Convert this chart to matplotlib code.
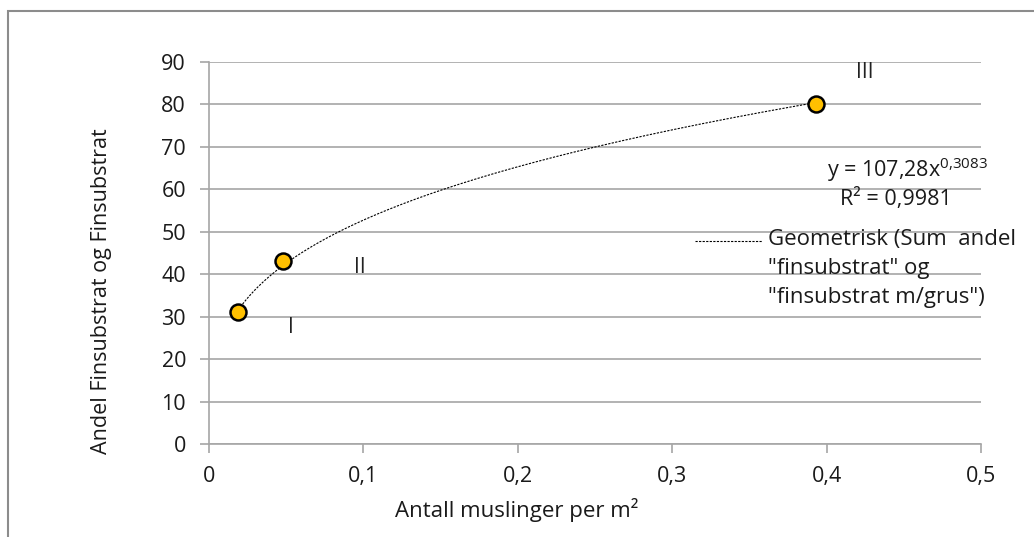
import numpy as np
import matplotlib
import matplotlib.pyplot as plt
from matplotlib.patches import Rectangle
from matplotlib.lines import Line2D

matplotlib.rcParams['font.family'] = ['Open Sans', 'DejaVu Sans']
matplotlib.rcParams['mathtext.fontset'] = 'custom'
matplotlib.rcParams['mathtext.rm'] = 'Open Sans'
matplotlib.rcParams['mathtext.it'] = 'Open Sans'
matplotlib.rcParams['mathtext.default'] = 'rm'

# data
x_vals = [0.019, 0.048, 0.393]
y_vals = [31, 43, 80]
point_labels = ["I", "II", "III"]
label_pos_x = [0.053, 0.098, 0.425]
label_pos_y = [27.5, 41.5, 87.5]

# power trendline coefficients shown on the chart
fit_a = 107.28
fit_b = 0.3083

x_ticks = [0, 0.1, 0.2, 0.3, 0.4, 0.5]
x_ticklabels = ["0", "0,1", "0,2", "0,3", "0,4", "0,5"]
y_ticks = [0, 10, 20, 30, 40, 50, 60, 70, 80, 90]

GRID = "#A6A6A6"
TXT = "#1A1A1A"

fig = plt.figure(figsize=(10.34, 5.37), dpi=100)
fig.patch.set_facecolor("white")
# outer chart frame (partly cropped in the original)
fig.add_artist(Rectangle((8/1034, -0.05), 1.2, 1 - 11/537 + 0.05, transform=fig.transFigure,
                         fill=False, edgecolor="#8C8C8C", linewidth=1.5))

ax = fig.add_axes([209/1034, 1 - 444/537, (981 - 209)/1034, (444 - 62)/537])

xf = np.linspace(min(x_vals), max(x_vals), 300)
ax.plot(xf, fit_a * xf ** fit_b, color="black", linewidth=0.8, linestyle=(0, (2, 1.2)), zorder=3)
ax.plot(x_vals, y_vals, linestyle="none", marker="o", markersize=11.5,
        markerfacecolor="#FFC000", markeredgecolor="black", markeredgewidth=1.8, zorder=4)

for lx, ly, t in zip(label_pos_x, label_pos_y, point_labels):
    ax.text(lx, ly, t, fontsize=15, ha="center", va="center", color="#222222")

ax.set_xlim(0, 0.5)
ax.set_ylim(0, 90)
ax.set_xticks(x_ticks)
ax.set_xticklabels(x_ticklabels)
ax.set_yticks(y_ticks)
ax.yaxis.grid(True, color=GRID, linewidth=1.2)
ax.set_axisbelow(True)
for s in ["top", "right"]:
    ax.spines[s].set_visible(False)
for s in ["left", "bottom"]:
    ax.spines[s].set_color(GRID)
    ax.spines[s].set_linewidth(1.2)
ax.tick_params(axis="both", colors=GRID, labelcolor=TXT, labelsize=15.5, length=6.5, width=1.2)
ax.tick_params(axis="x", pad=9)
ax.tick_params(axis="y", pad=10)

ax.set_xlabel("Antall muslinger per m²", fontsize=16, color=TXT)
ax.xaxis.set_label_coords((517 - 209)/772, -(498 - 444)/382)
ax.set_ylabel("Andel Finsubstrat og Finsubstrat", fontsize=15.5, color=TXT)
ax.yaxis.set_label_coords(-(209 - 112)/772, (444 - 291)/382)

# equation and legend text
fig.text(988/1034, 1 - 170/537, r"y = 107,28x$^{0{,}3083}$", fontsize=15.5, ha="right", va="center", color=TXT)
fig.text(896/1034, 1 - 199/537, "R² = 0,9981", fontsize=15.5, ha="center", va="center", color=TXT)
fig.add_artist(Line2D([695/1034, 762/1034], [1 - 241/537, 1 - 241/537], transform=fig.transFigure,
                      color="black", linewidth=0.8, linestyle=(0, (2, 1.2))))
fig.text(768/1034, 1 - 229/537, 'Geometrisk (Sum  andel\n"finsubstrat" og\n"finsubstrat m/grus")',
         fontsize=16, ha="left", va="top", color=TXT, linespacing=1.5)

fig.savefig("out.png", dpi=100, facecolor="white")
